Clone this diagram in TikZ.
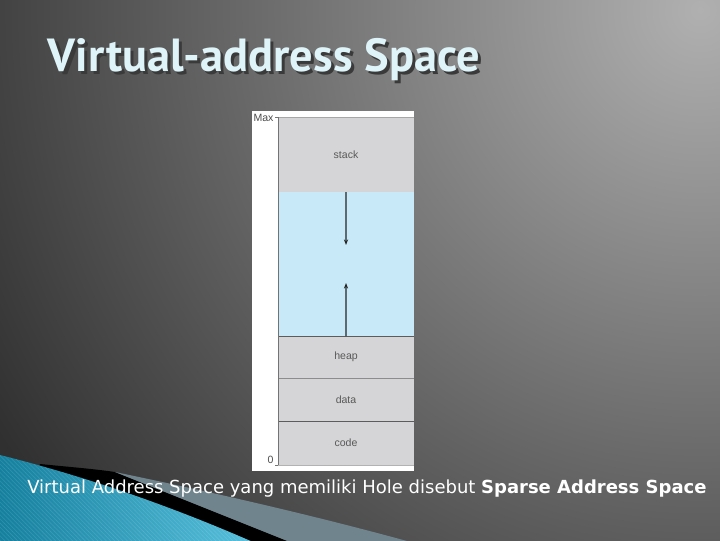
\documentclass[tikz,border=0pt]{standalone}
\usepackage{fontspec}
\usetikzlibrary{positioning,arrows.meta,patterns}

\newfontfamily\titlefont{PT Sans}
\newfontfamily\capfont{DejaVu Sans}
\newfontfamily\figfont{Liberation Sans}

\definecolor{bgdark}{HTML}{303030}
\definecolor{bglight}{HTML}{B0B0B0}
\definecolor{titlecol}{HTML}{DFF4F9}
\definecolor{titleshade}{HTML}{3A3A3A}
\definecolor{segcol}{HTML}{D5D5D7}
\definecolor{holecol}{HTML}{C7E9F8}
\definecolor{edgecol}{HTML}{5C5C5C}
\definecolor{swooshdark}{HTML}{15809E}
\definecolor{swooshlight}{HTML}{58C2DE}
\definecolor{wedgecol}{HTML}{6F848D}

\newcommand{\shadowtext}[1]{\makebox[0pt][l]{\hspace{2.2pt}\raisebox{-2.2pt}{\textcolor{titleshade}{#1}}}#1}

\tikzset{
  seg/.style={fill=segcol, minimum width=3.4cm, inner sep=0pt, outer sep=0pt,
    font=\figfont\fontsize{7.5}{9}\selectfont, text=black!65},
  hole/.style={seg, fill=holecol},
  divider/.style={draw=edgecol, line width=0.5pt},
  axisline/.style={draw=black!55, line width=0.5pt},
  lbl/.style={font=\figfont\fontsize{7.5}{9}\selectfont, text=black!70, inner sep=1pt},
  growarrow/.style={-{Stealth[length=4pt,width=3pt]}, line width=0.8pt, black!85},
  titlestyle/.style={anchor=west, font=\titlefont\bfseries\fontsize{33}{38}\selectfont},
}

\begin{document}
\begin{tikzpicture}[x=0.025cm, y=-0.025cm]

% --- background ---
\useasboundingbox (0,0) rectangle (720,540);
\begin{scope}
  \clip (0,0) rectangle (720,540);
  \fill[bgdark] (0,0) rectangle (720,540);
  \shade[inner color=bglight, outer color=bgdark] (700,10) circle (820);

  % --- bottom swoosh ---
  \fill[black] (40,464) .. controls (70,467) and (95,469) .. (115,472) -- (300,546) -- (0,546) -- cycle;
  \fill[wedgecol] (115,472) .. controls (250,500) and (350,525) .. (425,546) -- (300,546) -- cycle;
  \shade[left color=swooshdark, right color=swooshlight]
    (0,455) .. controls (80,475) and (170,505) .. (262,546) -- (0,546) -- cycle;
  \fill[pattern=north west lines, pattern color=white, opacity=0.12]
    (0,455) .. controls (80,475) and (170,505) .. (262,546) -- (0,546) -- cycle;
\end{scope}

% --- title ---
\node[titlestyle, text=titlecol] (title) at (43,61) {\shadowtext{Virtual-address Space}};

% --- address space ---
\fill[white] (252,111) rectangle (414,471);

\node[seg, anchor=north west, minimum height=1.875cm] (stack) at (278,117) {stack};
\node[hole, below=0pt of stack, minimum height=3.6cm] (gap) {};
\node[seg, below=0pt of gap, minimum height=1.05cm] (heap) {heap};
\node[seg, below=0pt of heap, minimum height=1.075cm] (data) {data};
\node[seg, below=0pt of data, minimum height=1.1cm] (code) {code};

\draw[divider, draw=black!35] (stack.north west) -- (stack.north east);
\draw[divider] (heap.north west) -- (heap.north east);
\draw[divider, draw=black!45] (data.north west) -- (data.north east);
\draw[divider, line width=0.8pt] (code.north west) -- (code.north east);
\draw[divider, draw=black!30] (code.south west) -- (code.south east);

\draw[axisline] (stack.north west) -- (code.south west);
\draw[axisline] (stack.north west) -- ++(-3,0);
\draw[axisline] (code.south west) -- ++(-3,0);

\node[lbl, anchor=east] (maxlbl) at ([xshift=-2pt,yshift=-1pt]stack.north west) {Max};
\node[lbl, anchor=south east] (zerolbl) at ([xshift=-2pt]code.south west) {0};

\coordinate (stackgrow) at (346,245);
\coordinate (heapgrow) at (346,283);
\draw[growarrow] (stack.south) -- (stackgrow);
\draw[growarrow] (gap.south) -- (heapgrow);

% --- caption ---
\node[anchor=west, font=\capfont\fontsize{12.8}{15}\selectfont, text=white, inner sep=0pt]
  (caption) at (27,489)
  {Virtual Address Space yang memiliki Hole disebut \textbf{Sparse Address Space}};

\end{tikzpicture}
\end{document}
